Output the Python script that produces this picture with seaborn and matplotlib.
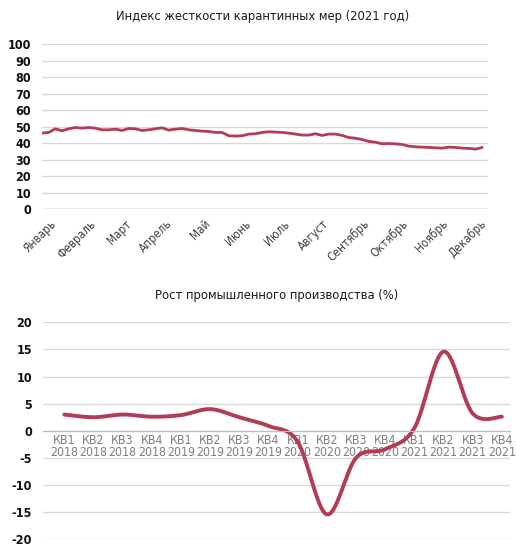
import numpy as np
import matplotlib
matplotlib.use('Agg')
import matplotlib.pyplot as plt
import seaborn as sns

# Top chart: stringency index 2021, read every ~5 days
stringency = [46.0, 46.4, 48.6, 47.4, 48.6, 49.4, 49.0, 49.4, 49.0, 48.0,
              48.0, 48.4, 47.6, 48.8, 48.6, 47.6, 48.0, 48.6, 49.2, 47.8,
              48.4, 48.8, 48.0, 47.6, 47.2, 47.0, 46.4, 46.4, 44.4, 44.2,
              44.4, 45.4, 45.6, 46.4, 46.8, 46.6, 46.4, 46.0, 45.4, 44.8,
              44.8, 45.6, 44.6, 45.4, 45.4, 44.6, 43.3, 42.9, 42.1, 40.9,
              40.5, 39.5, 39.7, 39.5, 39.1, 38.1, 37.7, 37.5, 37.3, 37.1,
              36.9, 37.5, 37.3, 36.9, 36.7, 36.3, 37.3]
months = ['Январь', 'Февраль', 'Март', 'Апрель', 'Май', 'Июнь',
          'Июль', 'Август', 'Сентябрь', 'Октябрь', 'Ноябрь', 'Декабрь']
month_start_day = [0, 31, 59, 90, 120, 151, 181, 212, 243, 273, 304, 334]

# Bottom chart: industrial production growth by quarter
quarters = ['КВ1\n2018', 'КВ2\n2018', 'КВ3\n2018', 'КВ4\n2018',
            'КВ1\n2019', 'КВ2\n2019', 'КВ3\n2019', 'КВ4\n2019',
            'КВ1\n2020', 'КВ2\n2020', 'КВ3\n2020', 'КВ4\n2020',
            'КВ1\n2021', 'КВ2\n2021', 'КВ3\n2021', 'КВ4\n2021']
growth = [3.0, 2.5, 3.0, 2.6, 2.9, 4.0, 2.5, 0.9,
          -2.0, -15.4, -5.0, -3.4, 0.5, 14.6, 3.2, 2.6]

LINE = '#b23b55'
GRID = '#d9d9d9'

sns.set_style('white')
plt.rcParams['font.family'] = ['DejaVu Sans']
plt.rcParams['font.stretch'] = 'condensed'
plt.rcParams['axes.unicode_minus'] = False


def smooth(xs, ys, steps=30):
    # Excel-style smoothed line (Catmull-Rom through the points)
    p = np.column_stack([xs, ys]).astype(float)
    p = np.vstack([p[0], p, p[-1]])
    out = []
    t = np.linspace(0, 1, steps)[:, None]
    for i in range(1, len(p) - 2):
        p0, p1, p2, p3 = p[i - 1], p[i], p[i + 1], p[i + 2]
        m1 = (p2 - p0) / 2
        m2 = (p3 - p1) / 2
        h00 = 2 * t**3 - 3 * t**2 + 1
        h10 = t**3 - 2 * t**2 + t
        h01 = -2 * t**3 + 3 * t**2
        h11 = t**3 - t**2
        out.append(h00 * p1 + h10 * m1 + h01 * p2 + h11 * m2)
    out = np.vstack(out)
    return out[:, 0], out[:, 1]


fig = plt.figure(figsize=(5.16, 5.44), dpi=100)

# ---- top chart
ax1 = fig.add_axes([0.0814, 0.6158, 0.9457 - 0.0814, 0.9191 - 0.6158])
days = np.arange(len(stringency)) * 5.17
sns.lineplot(x=days, y=stringency, ax=ax1, color=LINE, linewidth=2)
ax1.set_xlim(0, 345.7)
ax1.set_ylim(0, 100)
ax1.set_yticks(range(0, 101, 10))
ax1.yaxis.grid(True, color=GRID, linewidth=1)
ax1.axhline(0, color='#bfbfbf', linewidth=1)
for s in ax1.spines.values():
    s.set_visible(False)
# rotated labels sit a bit right of the month start, like in Excel
label_shift = 5.5
ax1.set_xticks([d + label_shift for d in month_start_day])
ax1.set_xticklabels(months, rotation=45, ha='right', va='top',
                    rotation_mode='anchor', fontsize=8.5, color='#404040')
ax1.tick_params(axis='x', length=0, pad=6)
ax1.tick_params(axis='y', length=0, pad=8, labelsize=9, labelcolor='#111111')
for lbl in ax1.get_yticklabels():
    lbl.set_fontweight('bold')
fig.text(0.508, 0.969, 'Индекс жесткости карантинных мер (2021 год)',
         ha='center', va='center', fontsize=9.3, color='#1a1a1a')

# ---- bottom chart
ax2 = fig.add_axes([0.0833, 0.0086, 0.9884 - 0.0833, 0.4075 - 0.0086])
qx = np.arange(len(growth))
sx, sy = smooth(qx, growth)
sns.lineplot(x=sx, y=sy, ax=ax2, color=LINE, linewidth=2.8, sort=False)
ax2.set_xlim(-0.73, 15.28)
ax2.set_ylim(-20, 20)
ax2.set_yticks(range(-20, 21, 5))
ax2.yaxis.grid(True, color=GRID, linewidth=1)
for s in ['top', 'right', 'left']:
    ax2.spines[s].set_visible(False)
ax2.spines['bottom'].set_position(('data', 0))
ax2.spines['bottom'].set_color('#bfbfbf')
ax2.set_xticks(qx)
ax2.set_xticklabels(quarters, fontsize=8.8, color='#7f7f7f', linespacing=0.95)
ax2.tick_params(axis='x', length=0, pad=2)
ax2.tick_params(axis='y', length=0, pad=8, labelsize=9, labelcolor='#111111')
for lbl in ax2.get_yticklabels():
    lbl.set_fontweight('bold')
fig.text(0.536, 0.456, 'Рост промышленного производства (%)',
         ha='center', va='center', fontsize=9.3, color='#1a1a1a')

fig.savefig('out.png', dpi=100)
